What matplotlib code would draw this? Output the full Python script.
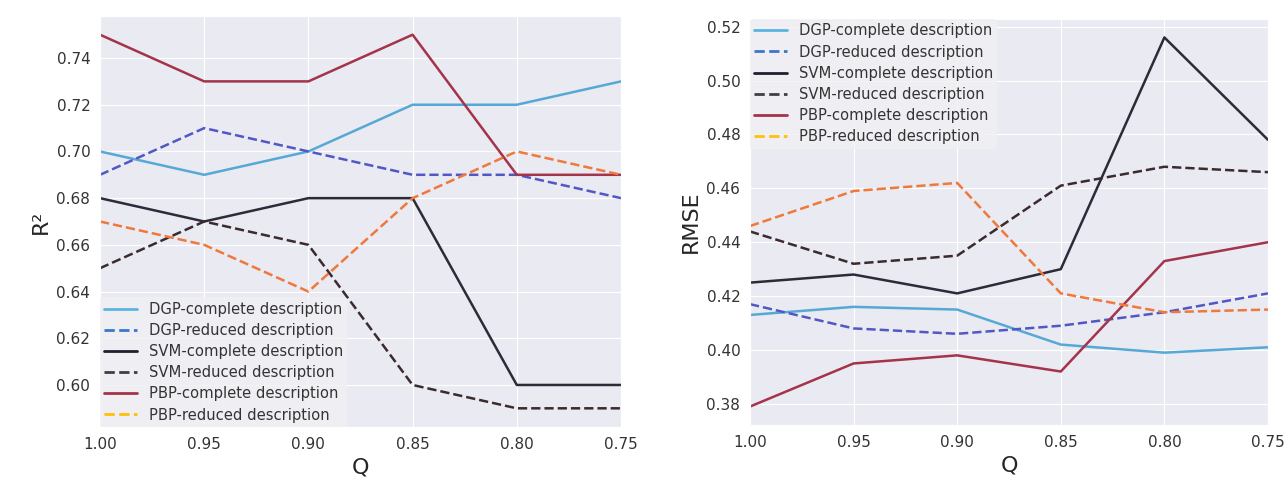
import matplotlib
matplotlib.use("Agg")
import matplotlib.pyplot as plt
import seaborn as sns
from matplotlib.lines import Line2D

sns.set_style("darkgrid")

q = [1.00, 0.95, 0.90, 0.85, 0.80, 0.75]

# R^2 values
r2_dgp_c = [0.70, 0.69, 0.70, 0.72, 0.72, 0.73]
r2_dgp_r = [0.69, 0.71, 0.70, 0.69, 0.69, 0.68]
r2_svm_c = [0.68, 0.67, 0.68, 0.68, 0.60, 0.60]
r2_svm_r = [0.65, 0.67, 0.66, 0.60, 0.59, 0.59]
r2_pbp_c = [0.75, 0.73, 0.73, 0.75, 0.69, 0.69]
r2_pbp_r = [0.67, 0.66, 0.64, 0.68, 0.70, 0.69]

# RMSE values
rmse_dgp_c = [0.413, 0.416, 0.415, 0.402, 0.399, 0.401]
rmse_dgp_r = [0.417, 0.408, 0.406, 0.409, 0.414, 0.421]
rmse_svm_c = [0.425, 0.428, 0.421, 0.430, 0.516, 0.478]
rmse_svm_r = [0.444, 0.432, 0.435, 0.461, 0.468, 0.466]
rmse_pbp_c = [0.379, 0.395, 0.398, 0.392, 0.433, 0.440]
rmse_pbp_r = [0.446, 0.459, 0.462, 0.421, 0.414, 0.415]

labels = ['DGP-complete description', 'DGP-reduced description',
          'SVM-complete description', 'SVM-reduced description',
          'PBP-complete description', 'PBP-reduced description']
line_colors = ['#56a8d5', '#5158c4', '#2b2b3a', '#3b2a2e', '#a3344a', '#f0783a']
legend_colors = ['#5ab4e0', '#3a78c9', '#1f1f2e', '#404040', '#a3324a', '#ffc107']
styles = ['-', '--', '-', '--', '-', '--']

fig = plt.figure(figsize=(12.87, 4.87), dpi=100)
ax1 = fig.add_axes([100/1287, 60/487, 521/1287, 411/487])
ax2 = fig.add_axes([750/1287, 62/487, 518/1287, 406/487])

handles = [Line2D([0], [0], color=c, ls=s, lw=2) for c, s in zip(legend_colors, styles)]

r2_all = [r2_dgp_c, r2_dgp_r, r2_svm_c, r2_svm_r, r2_pbp_c, r2_pbp_r]
rmse_all = [rmse_dgp_c, rmse_dgp_r, rmse_svm_c, rmse_svm_r, rmse_pbp_c, rmse_pbp_r]

for ax, data, ylab, loc in [(ax1, r2_all, 'R²', 'lower left'), (ax2, rmse_all, 'RMSE', 'upper left')]:
    for y, c, s in zip(data, line_colors, styles):
        ax.plot(q, y, color=c, linestyle=s, linewidth=1.8)
    ax.set_xlim(1.0, 0.75)
    ax.set_xticks(q)
    ax.set_xticklabels(['%.2f' % v for v in q])
    ax.tick_params(labelsize=11, colors='#333333')
    ax.set_xlabel('Q', fontsize=16, family=['Liberation Sans Narrow', 'DejaVu Sans'])
    ax.set_ylabel(ylab, fontsize=16, family=['Liberation Sans Narrow', 'DejaVu Sans'])
    leg = ax.legend(handles, labels, loc=loc, fontsize=10.6, frameon=True,
                    borderaxespad=0.0, borderpad=0.3, labelspacing=0.42,
                    handlelength=2.2)
    leg.get_frame().set_facecolor('#f0f0f4')
    leg.get_frame().set_edgecolor('none')
    leg.get_frame().set_alpha(0.8)
    for t in leg.get_texts():
        t.set_color('#333333')

ax1.set_yticks([0.60, 0.62, 0.64, 0.66, 0.68, 0.70, 0.72, 0.74])
ax2.set_yticks([0.38, 0.40, 0.42, 0.44, 0.46, 0.48, 0.50, 0.52])
ax1.yaxis.set_major_formatter(plt.FormatStrFormatter('%.2f'))
ax2.yaxis.set_major_formatter(plt.FormatStrFormatter('%.2f'))

fig.savefig('out.png', dpi=100)
